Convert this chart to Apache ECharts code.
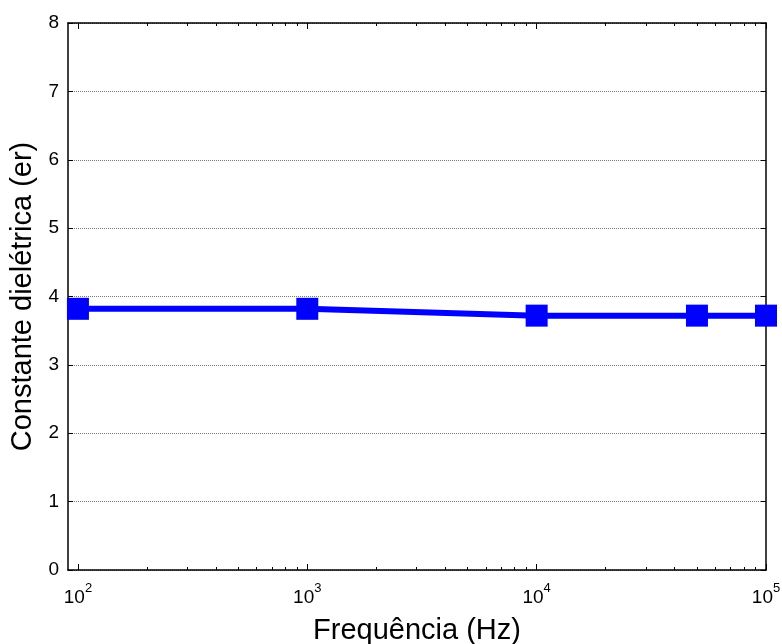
<!DOCTYPE html>
<html>
<head>
<meta charset="utf-8">
<script src="https://cdn.jsdelivr.net/npm/echarts@6/dist/echarts.min.js"></script>
<style>html,body{margin:0;padding:0;background:#fff;}#c{width:782px;height:644px;}</style>
</head>
<body>
<div id="c"></div>
<script>
var freqs = [100, 1000, 10000, 50000, 100000];
var epsilon = [3.82, 3.82, 3.72, 3.72, 3.72];
var majorTicks = [100, 1000, 10000, 100000];
var minorTicks = [200,300,400,500,600,700,800,900,2000,3000,4000,5000,6000,7000,8000,9000,20000,30000,40000,50000,60000,70000,80000,90000];
var yTicks = [0,1,2,3,4,5,6,7,8];
var xTitle = 'Frequência (Hz)';
var yTitle = 'Constante dielétrica (er)';

var FONT = 'Liberation Sans, Arial, sans-serif';
var chart = echarts.init(document.getElementById('c'));
var xMin = 90.5, xMax = 100000;

function xAx(pos, ticks, len, withLabel, withLine) {
  var a = {
    type: 'log', logBase: 10, min: xMin, max: xMax, position: pos,
    axisLine: {show: withLine, onZero: false, lineStyle: {color: '#000', width: 1.5}},
    axisTick: {show: true, inside: true, length: len, customValues: ticks, lineStyle: {color: '#000', width: 1}},
    axisLabel: {show: false},
    splitLine: {show: false},
    minorTick: {show: false}
  };
  if (withLabel) {
    a.axisLabel = {
      show: true, customValues: majorTicks, margin: 12,
      formatter: function (v) { var e = Math.round(Math.log(v) / Math.LN10); return '{b|10}{s|' + e + '}'; },
      rich: {
        b: {fontSize: 19, fontFamily: FONT, color: '#000'},
        s: {fontSize: 13, fontFamily: FONT, color: '#000', padding: [0, 0, 18, 0]}
      }
    };
    a.name = xTitle;
    a.nameLocation = 'middle';
    a.nameGap = 46;
    a.nameTextStyle = {fontSize: 29, fontFamily: FONT, color: '#000'};
  }
  return a;
}

var option = {
  animation: false,
  backgroundColor: '#fff',
  grid: {left: 68, right: 16, top: 23, bottom: 74, containLabel: false, outerBoundsMode: 'none'},
  xAxis: [
    xAx('bottom', majorTicks, 6, true, true),
    xAx('bottom', minorTicks, 3, false, false),
    xAx('top', majorTicks, 6, false, true),
    xAx('top', minorTicks, 3, false, false)
  ],
  yAxis: [
    {
      type: 'value', min: 0, max: 8, interval: 1, position: 'left',
      axisLine: {show: true, lineStyle: {color: '#000', width: 1.5}},
      axisTick: {show: true, inside: true, length: 5, lineStyle: {color: '#000'}},
      axisLabel: {fontSize: 19, fontFamily: FONT, color: '#000', margin: 9},
      splitLine: {show: true, lineStyle: {color: '#777', type: [1, 1], width: 1}},
      name: yTitle, nameLocation: 'middle', nameGap: 31,
      nameTextStyle: {fontSize: 29, fontFamily: FONT, color: '#000'}
    },
    {
      type: 'value', min: 0, max: 8, interval: 1, position: 'right',
      axisLine: {show: true, lineStyle: {color: '#000', width: 1.5}},
      axisTick: {show: true, inside: true, length: 5, lineStyle: {color: '#000'}},
      axisLabel: {show: false},
      splitLine: {show: false}
    }
  ],
  series: [{
    type: 'line', xAxisIndex: 0, yAxisIndex: 0,
    data: freqs.map(function (f, i) { return [f, epsilon[i]]; }),
    symbol: 'rect', symbolSize: 22, showSymbol: true,
    lineStyle: {color: '#0000ff', width: 6},
    itemStyle: {color: '#0000ff'},
    clip: false, z: 5
  }]
};
chart.setOption(option);
</script>
</body>
</html>
